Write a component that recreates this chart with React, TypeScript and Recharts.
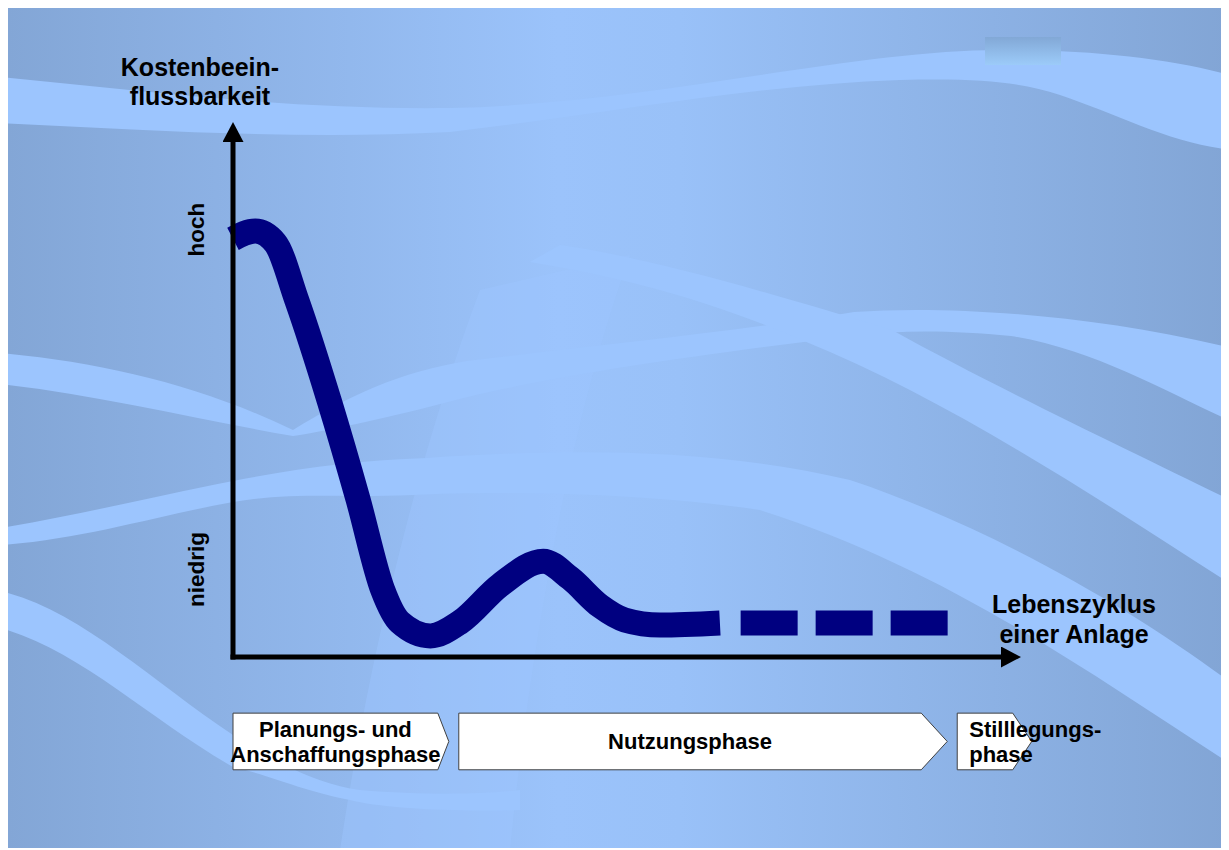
import React from "react";
import { LineChart, Line, XAxis, YAxis, ReferenceArea } from "recharts";

// lifecycle position (0 = start of planning, 100 = end of the drawn axis)
const lifecycle = [0, 2.9, 5.5, 8.3, 12.5, 16.3, 19.5, 21.7, 25.7, 29.6, 34.8, 40.4, 43.9, 47.8, 51.0, 55.6, 63.4, 66.1, 93.1];
// cost influence, solid part and the dashed continuation
const influenceSolid = [81.2, 82.7, 80.4, 69.3, 49.9, 30.5, 13.0, 6.8, 4.1, 6.8, 14.0, 18.6, 15.3, 9.9, 7.2, 6.2, 6.6, null, null];
const influenceDashed = [null, null, null, null, null, null, null, null, null, null, null, null, null, null, null, null, null, 6.6, 6.6];

const yTicks = [17, 83];
const yTickLabels = ["niedrig", "hoch"];

const phaseNames = [["Planungs- und", "Anschaffungsphase"], ["Nutzungsphase"], ["Stilllegungs-", "phase"]];
const phaseStart = [0, 29.4, 94.3];
const phaseEnd = [28.1, 93.0, 104.0];

const data = lifecycle.map((x, i) => ({
  x,
  solid: influenceSolid[i],
  dashed: influenceDashed[i],
}));

const FONT = "'Liberation Sans', Arial, sans-serif";
const NAVY = "#000080";
const tipDepth = [11, 26, 19];
const phaseAlign = ["middle", "middle", "start"];

const YTick = (props: any) => {
  const { x, y, payload } = props;
  const label = yTickLabels[yTicks.indexOf(payload.value)];
  return (
    <text
      x={x}
      y={y}
      transform={`rotate(-90 ${x} ${y})`}
      textAnchor="middle"
      fontFamily={FONT}
      fontWeight="bold"
      fontSize={22.5}
      fill="#000"
    >
      {label}
    </text>
  );
};

const PhaseBox = (props: any) => {
  const { x, y, width, height, idx } = props;
  const tip = tipDepth[idx];
  const pts = [
    [x, y],
    [x + width - tip, y],
    [x + width, y + height / 2],
    [x + width - tip, y + height],
    [x, y + height],
  ]
    .map((p) => p.join(","))
    .join(" ");
  const lines = phaseNames[idx];
  const align = phaseAlign[idx];
  const tx = align === "middle" ? x + (width - tip) / 2 : x + 12;
  const mid = y + height / 2;
  return (
    <g>
      <polygon points={pts} fill="#fff" stroke="#404040" strokeWidth={1} />
      {lines.map((t, i) => (
        <text
          key={t}
          x={tx}
          y={lines.length === 1 ? mid + 8 : mid - 4.5 + i * 25}
          textAnchor={align}
          fontFamily={FONT}
          fontWeight="bold"
          fontSize={22}
          fill="#000"
        >
          {t}
        </text>
      ))}
    </g>
  );
};

const YTitle = (props: any) => {
  const { x, y, width } = props.viewBox;
  const cx = x + width - 33;
  return (
    <text textAnchor="middle" fontFamily={FONT} fontWeight="bold" fontSize={25} fill="#000">
      <tspan x={cx} y={y - 66}>Kostenbeein-</tspan>
      <tspan x={cx} y={y - 37}>flussbarkeit</tspan>
    </text>
  );
};

const XTitle = (props: any) => {
  const { x, y, width } = props.viewBox;
  const cx = x + width + 73;
  return (
    <text textAnchor="middle" fontFamily={FONT} fontWeight="bold" fontSize={25} fill="#000">
      <tspan x={cx} y={y - 44}>Lebenszyklus</tspan>
      <tspan x={cx} y={y - 14}>einer Anlage</tspan>
    </text>
  );
};

function Background() {
  const band = "#9cc5fe";
  return (
    <svg width={1221} height={840} style={{ position: "absolute", left: 0, top: 0 }}>
      <defs>
        <linearGradient id="bg" x1="0" x2="1" y1="0" y2="0">
          <stop offset="0" stopColor="#83a6d6" />
          <stop offset="0.45" stopColor="#9bc3fb" />
          <stop offset="0.55" stopColor="#99c1f8" />
          <stop offset="1" stopColor="#82a5d5" />
        </linearGradient>
        <linearGradient id="tag" x1="0" x2="0" y1="0" y2="1">
          <stop offset="0" stopColor="#82a8d6" />
          <stop offset="1" stopColor="#9ccbf9" />
        </linearGradient>
      </defs>
      <rect width={1221} height={840} fill="url(#bg)" />
      <g transform="translate(-8,-8)">
        <path
          fill="#9dc6ff"
          opacity={0.45}
          d="M340,850 C370,650 420,450 480,290 L630,255 C570,420 530,650 510,850 Z"
        />
        <path
          fill={band}
          d="M0,77 C150,92 300,110 450,108 C650,104 850,50 1000,50 C1100,50 1180,60 1240,78 L1240,150 C1180,148 1120,115 1060,95 C1020,82 980,78 900,80 C750,85 600,115 450,132 C300,140 150,130 0,123 Z"
        />
        <path
          fill={band}
          d="M0,353 C100,362 200,385 293,430 L293,436 C200,420 100,395 0,384 Z"
        />
        <path
          fill={band}
          d="M293,430 C350,395 400,372 467,361 C600,345 750,330 854,312 C950,305 1100,315 1240,350 L1240,425 C1180,400 1100,350 1011,336 C950,330 900,330 850,336 C700,355 550,375 448,402 C380,420 320,432 293,436 Z"
        />
        <path
          fill={band}
          d="M560,245 C650,258 760,290 892,330 C1000,390 1150,460 1240,505 L1240,590 C1100,500 950,400 804,341 C720,305 640,280 530,262 Z"
        />
        <path
          fill={band}
          d="M0,528 C80,515 160,495 233,481 C300,468 360,460 427,458 C550,450 700,445 850,480 C1000,530 1150,620 1240,690 L1240,770 C1100,680 950,570 760,510 C620,490 480,492 413,495 C340,498 290,492 233,502 C160,515 80,540 0,545 Z"
        />
        <path
          fill={band}
          d="M0,591 C80,610 150,680 233,735 C280,765 320,785 360,790 C420,795 480,795 520,790 L520,810 C450,812 380,808 350,800 C300,790 270,775 233,767 C150,720 80,650 0,628 Z"
        />
        <rect x={985} y={37} width={76} height={28} fill="url(#tag)" />
      </g>
    </svg>
  );
}

export default function App() {
  return (
    <div style={{ position: "relative", width: 1221, height: 840, overflow: "hidden" }}>
      <Background />
      <div style={{ position: "absolute", left: 0, top: 0 }}>
        <LineChart width={1221} height={840} data={data} margin={{ top: 134, right: 228, bottom: 190, left: 0 }}>
          <defs>
            <marker
              id="arrowHead"
              viewBox="0 0 20 21"
              refX="0"
              refY="10.5"
              markerWidth="20"
              markerHeight="21"
              markerUnits="userSpaceOnUse"
              orient="auto-start-reverse"
            >
              <path d="M0,0 L20,10.5 L0,21 Z" fill="#000" />
            </marker>
          </defs>
          <XAxis
            dataKey="x"
            type="number"
            domain={[0, 100]}
            height={1}
            tick={false}
            tickLine={false}
            axisLine={{ stroke: "#000", strokeWidth: 5, strokeLinecap: "square", markerEnd: "url(#arrowHead)" }}
            label={{ content: XTitle }}
          />
          <YAxis
            type="number"
            domain={[0, 100]}
            width={225}
            ticks={yTicks}
            tick={YTick}
            tickLine={false}
            tickSize={0}
            tickMargin={29}
            axisLine={{ stroke: "#000", strokeWidth: 5, strokeLinecap: "square", markerStart: "url(#arrowHead)" }}
            label={{ content: YTitle }}
          />
          {phaseStart.map((s, i) => (
            <ReferenceArea
              key={i}
              x1={s}
              x2={phaseEnd[i]}
              y1={-21.9}
              y2={-10.9}
              ifOverflow="visible"
              shape={(p: any) => <PhaseBox {...p} idx={i} />}
            />
          ))}
          <Line
            dataKey="solid"
            type="monotone"
            stroke={NAVY}
            strokeWidth={25}
            dot={false}
            activeDot={false}
            isAnimationActive={false}
          />
          <Line
            dataKey="dashed"
            type="linear"
            stroke={NAVY}
            strokeWidth={25}
            strokeDasharray="57 18"
            dot={false}
            activeDot={false}
            isAnimationActive={false}
          />
        </LineChart>
      </div>
    </div>
  );
}
